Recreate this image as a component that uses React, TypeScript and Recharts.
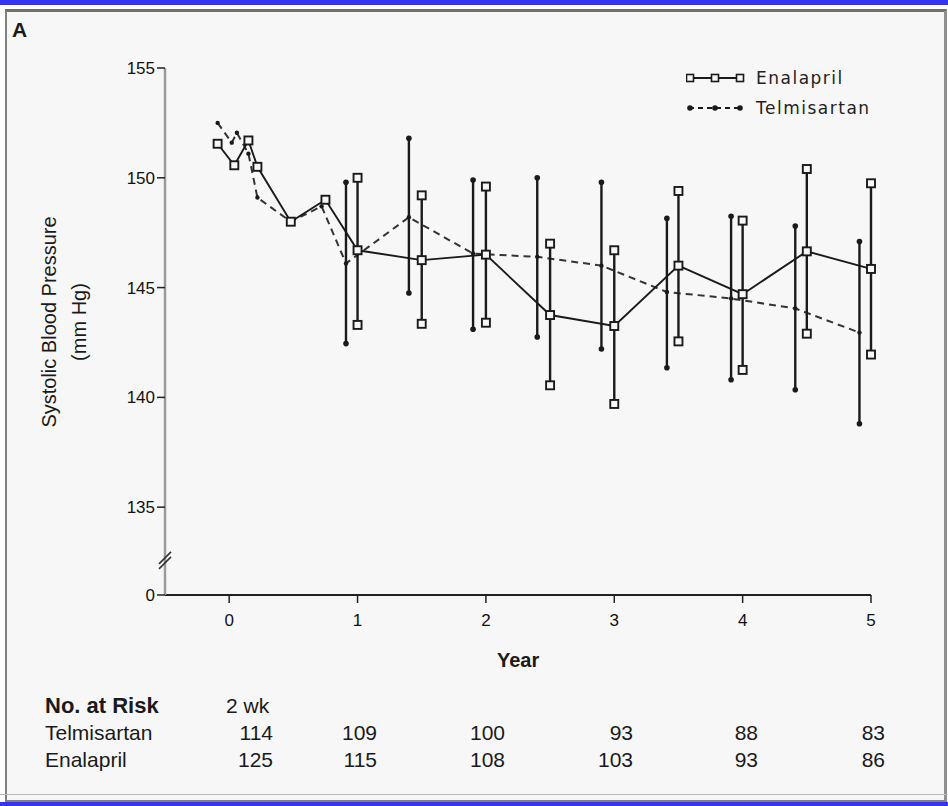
import React from "react";
import {
  ComposedChart,
  Line,
  Scatter,
  ErrorBar,
  XAxis,
  YAxis,
  ReferenceDot,
} from "recharts";

// Enalapril (solid, open squares)
const enalaprilYear = [-0.09, 0.04, 0.15, 0.22, 0.48, 0.75, 1.0, 1.5, 2.0, 2.5, 3.0, 3.5, 4.0, 4.5, 5.0];
const enalaprilMean = [151.55, 150.57, 151.7, 150.5, 148.0, 149.0, 146.7, 146.25, 146.5, 143.75, 143.25, 146.0, 144.7, 146.65, 145.85];
const enalaprilLow = [null, null, null, null, null, null, 143.3, 143.35, 143.4, 140.55, 139.7, 142.55, 141.25, 142.9, 141.95];
const enalaprilHigh = [null, null, null, null, null, null, 150.0, 149.2, 149.6, 147.0, 146.7, 149.4, 148.05, 150.4, 149.75];

// Telmisartan (dashed, dots)
const telmisartanYear = [-0.09, 0.02, 0.06, 0.15, 0.22, 0.48, 0.72, 0.91, 1.4, 1.9, 2.4, 2.9, 3.41, 3.91, 4.41, 4.91];
const telmisartanMean = [152.5, 151.6, 152.05, 151.1, 149.1, 148.0, 148.7, 146.1, 148.2, 146.55, 146.4, 146.0, 144.8, 144.5, 144.05, 142.95];
const telmisartanLow = [null, null, null, null, null, null, null, 142.45, 144.75, 143.1, 142.75, 142.2, 141.35, 140.8, 140.35, 138.8];
const telmisartanHigh = [null, null, null, null, null, null, null, 149.8, 151.8, 149.9, 150.0, 149.8, 148.15, 148.25, 147.8, 147.1];

const xTicks = [0, 1, 2, 3, 4, 5];
const yTicks = [131, 135, 140, 145, 150, 155];

const riskColumns = ["2 wk"];
const riskTelmisartan = [114, 109, 100, 93, 88, 83];
const riskEnalapril = [125, 115, 108, 103, 93, 86];
const riskRight = [273, 377, 505, 633, 758, 885];

const FONT = "'Liberation Sans', Arial, sans-serif";
const BG = "#f7f7f7";
const INK = "#1a1a1a";

function buildRows(years: number[], mean: number[], low: (number | null)[], high: (number | null)[]) {
  return years.map((year, i) => ({
    year,
    v: mean[i],
    err: low[i] != null && high[i] != null ? [mean[i] - (low[i] as number), (high[i] as number) - mean[i]] : null,
  }));
}

function buildCaps(years: number[], low: (number | null)[], high: (number | null)[]) {
  const out: { year: number; v: number }[] = [];
  years.forEach((year, i) => {
    if (low[i] != null) out.push({ year, v: low[i] as number });
    if (high[i] != null) out.push({ year, v: high[i] as number });
  });
  return out;
}

const enalaprilRows = buildRows(enalaprilYear, enalaprilMean, enalaprilLow, enalaprilHigh);
const telmisartanRows = buildRows(telmisartanYear, telmisartanMean, telmisartanLow, telmisartanHigh);
const enalaprilCaps = buildCaps(enalaprilYear, enalaprilLow, enalaprilHigh);
const telmisartanCaps = buildCaps(telmisartanYear, telmisartanLow, telmisartanHigh);

const SquareMark = (props: any) => {
  const { cx, cy } = props;
  if (cx == null || cy == null) return null;
  return <rect x={cx - 4} y={cy - 4} width={8} height={8} fill={BG} stroke={INK} strokeWidth={1.9} />;
};

const DotMark = (props: any) => {
  const { cx, cy } = props;
  if (cx == null || cy == null) return null;
  return <circle cx={cx} cy={cy} r={2.8} fill={INK} />;
};

const SmallDot = (props: any) => {
  const { cx, cy } = props;
  if (cx == null || cy == null) return null;
  return <circle cx={cx} cy={cy} r={2.2} fill={INK} />;
};

const AxisBreak = (props: any) => {
  const { cx, cy } = props;
  if (cx == null || cy == null) return null;
  return (
    <g>
      <line x1={cx - 6} y1={cy + 4} x2={cx + 6} y2={cy - 8} stroke="#333" strokeWidth={1.6} />
      <line x1={cx - 6} y1={cy + 9} x2={cx + 6} y2={cy - 3} stroke="#333" strokeWidth={1.6} />
    </g>
  );
};

function LegendRow({ label, solid, top }: { label: string; solid: boolean; top: number }) {
  return (
    <div style={{ position: "absolute", left: 686, top, height: 20, display: "flex", alignItems: "center" }}>
      <svg width={60} height={20}>
        <line x1={3} y1={10} x2={55} y2={10} stroke={INK} strokeWidth={1.8} strokeDasharray={solid ? undefined : "5 4"} />
        {[4, 29, 54].map((x) =>
          solid ? (
            <rect key={x} x={x - 3.5} y={6.5} width={7} height={7} fill={BG} stroke={INK} strokeWidth={1.6} />
          ) : (
            <circle key={x} cx={x} cy={10} r={2.8} fill={INK} />
          )
        )}
      </svg>
      <span style={{ marginLeft: 10, fontFamily: "'DejaVu Sans', sans-serif", fontSize: 17, letterSpacing: 1.5, color: "#222" }}>{label}</span>
    </div>
  );
}

export default function App() {
  const textStyle: React.CSSProperties = { position: "absolute", fontFamily: FONT, fontSize: 21, color: "#1a1a1a", lineHeight: "24px", whiteSpace: "nowrap" };
  return (
    <div style={{ position: "absolute", left: 0, top: 0, width: 948, height: 806, background: "#fff", overflow: "hidden" }}>
      <div style={{ position: "absolute", left: 0, top: 0, width: 948, height: 5, background: "#3535ee" }} />
      <div style={{ position: "absolute", left: 0, top: 802, width: 948, height: 4, background: "#3535ee" }} />
      <div style={{ position: "absolute", left: 5, top: 9, width: 937, height: 788, background: BG, borderTop: "3px solid #707070", borderLeft: "2px solid #808080", borderBottom: "2px solid #808080", borderRight: "3px solid #909090" }} />
      <div style={{ position: "absolute", left: 0, top: 794, width: 948, height: 1, background: "#bbb" }} />

      <div style={{ ...textStyle, left: 12, top: 18, fontSize: 21, fontWeight: "bold" }}>A</div>

      <div style={{ position: "absolute", left: 0, top: 0 }}>
        <ComposedChart width={948} height={806} margin={{ top: 68, right: 77, left: 105, bottom: 181 }}>
          <XAxis
            type="number"
            dataKey="year"
            domain={[-0.5, 5]}
            ticks={xTicks}
            height={30}
            axisLine={{ stroke: "#222", strokeWidth: 2 }}
            tickLine={{ stroke: "#222", strokeWidth: 1.5 }}
            tickSize={8}
            tick={{ fontSize: 17, fill: "#111", fontFamily: FONT, dy: 9 }}
          />
          <YAxis
            type="number"
            dataKey="v"
            domain={[131, 155]}
            ticks={yTicks}
            width={60}
            axisLine={{ stroke: "#9a9a9a", strokeWidth: 2.5 }}
            tickLine={{ stroke: "#222", strokeWidth: 1.5 }}
            tickSize={8}
            tickFormatter={(v: number) => (v === 131 ? "0" : String(v))}
            tick={{ fontSize: 17, fill: "#111", fontFamily: FONT }}
          />
          <ReferenceDot x={-0.5} y={132.6} r={0} ifOverflow="visible" shape={AxisBreak} />
          <Line
            data={telmisartanRows}
            dataKey="v"
            stroke="#333"
            strokeWidth={2}
            strokeDasharray="7 5"
            dot={SmallDot}
            activeDot={false}
            isAnimationActive={false}
          >
            <ErrorBar dataKey="err" width={0} stroke={INK} strokeWidth={2.4} direction="y" />
          </Line>
          <Line
            data={enalaprilRows}
            dataKey="v"
            stroke={INK}
            strokeWidth={1.9}
            dot={SquareMark}
            activeDot={false}
            isAnimationActive={false}
          >
            <ErrorBar dataKey="err" width={0} stroke={INK} strokeWidth={2.4} direction="y" />
          </Line>
          <Scatter data={telmisartanCaps} dataKey="v" shape={DotMark} isAnimationActive={false} />
          <Scatter data={enalaprilCaps} dataKey="v" shape={SquareMark} isAnimationActive={false} />
        </ComposedChart>
      </div>

      <LegendRow label="Enalapril" solid top={68} />
      <LegendRow label="Telmisartan" solid={false} top={98} />

      <div style={{ position: "absolute", left: 64, top: 322, width: 0, height: 0 }}>
        <div style={{ ...textStyle, fontSize: 20, position: "absolute", left: 0, top: 0, transform: "translate(-50%, -50%) rotate(-90deg)", textAlign: "center", lineHeight: "30px" }}>
          Systolic Blood Pressure
          <br />
          (mm Hg)
        </div>
      </div>

      <div style={{ ...textStyle, left: 497, top: 648, fontWeight: "bold", fontSize: 20 }}>Year</div>

      <div style={{ ...textStyle, left: 45, top: 694, fontWeight: "bold", fontSize: 22 }}>No. at Risk</div>
      <div style={{ ...textStyle, left: 226, top: 694 }}>{riskColumns[0]}</div>
      <div style={{ ...textStyle, left: 45, top: 721 }}>Telmisartan</div>
      <div style={{ ...textStyle, left: 45, top: 748 }}>Enalapril</div>
      {riskTelmisartan.map((n, i) => (
        <div key={"t" + i} style={{ ...textStyle, left: riskRight[i] - 60, width: 60, textAlign: "right", top: 721 }}>{n}</div>
      ))}
      {riskEnalapril.map((n, i) => (
        <div key={"e" + i} style={{ ...textStyle, left: riskRight[i] - 60, width: 60, textAlign: "right", top: 748 }}>{n}</div>
      ))}
    </div>
  );
}
